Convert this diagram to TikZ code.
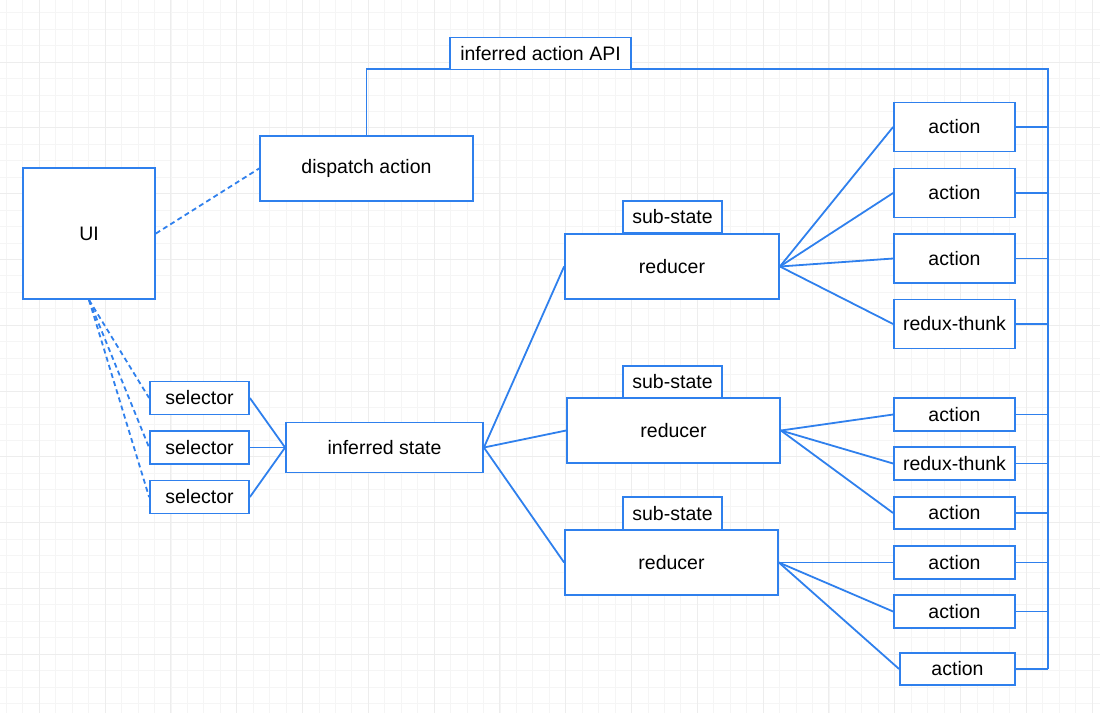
\documentclass[tikz,border=0pt]{standalone}
\usepackage{fontspec}
\setmainfont{Liberation Sans}
\definecolor{drawblue}{HTML}{2F80ED}
\definecolor{gridminor}{HTML}{F5F5F5}
\definecolor{gridmajor}{HTML}{EDEDED}
\tikzset{
	box/.style={draw=drawblue, line width=1.8pt, fill=white, inner sep=0pt,
		font=\fontsize{19.5}{23}\selectfont},
	link/.style={draw=drawblue, line width=1.8pt},
	uilink/.style={link, dash pattern=on 5pt off 3.5pt},
}
\begin{document}
\begin{tikzpicture}[x=1pt, y=-1pt]
		\useasboundingbox (0,0) rectangle (1100,713);
		% background grid
		\foreach \i in {0,...,66}
			\draw[gridminor, line width=0.8pt] (6.4+16.45*\i,0) -- ++(0,713);
		\foreach \j in {0,...,42}
			\draw[gridminor, line width=0.8pt] (0,12.65+16.45*\j) -- ++(1100,0);
		\foreach \i in {0,...,16}
			\draw[gridmajor, line width=1pt] (39.3+65.8*\i,0) -- ++(0,713);
		\foreach \j in {0,...,9}
			\draw[gridmajor, line width=1pt] (0,62+65.8*\j) -- ++(1100,0);

		% left side
		\node[box, minimum width=132pt, minimum height=131pt] (ui) at (89,233.5) {UI};
		\node[box, minimum width=213pt, minimum height=65pt] (dispatch) at (366.5,168.5) {dispatch action};
		\node[box, minimum width=99pt, minimum height=33pt] (sel1) at (199.5,398) {selector};
		\node[box, minimum width=99pt, minimum height=33pt] (sel2) at (199.5,447.5) {selector};
		\node[box, minimum width=99pt, minimum height=33pt] (sel3) at (199.5,497) {selector};
		\node[box, minimum width=197pt, minimum height=50pt] (state) at (384.5,447.5) {inferred state};

		% reducers with their sub-states
		\node[box, minimum width=214pt, minimum height=65pt] (red1) at (672,266.5) {reducer};
		\node[box, minimum width=99pt, minimum height=32pt] (sub1) at (672.5,217) {sub-state};
		\node[box, minimum width=213pt, minimum height=65pt] (red2) at (673.5,430.5) {reducer};
		\node[box, minimum width=99pt, minimum height=32pt] (sub2) at (672.5,382) {sub-state};
		\node[box, minimum width=213pt, minimum height=65pt] (red3) at (671.5,562.5) {reducer};
		\node[box, minimum width=99pt, minimum height=33pt] (sub3) at (672.5,513.5) {sub-state};

		% actions
		\node[box, minimum width=121pt, minimum height=49pt] (act1) at (954.5,127) {action};
		\node[box, minimum width=121pt, minimum height=49pt] (act2) at (954.5,193) {action};
		\node[box, minimum width=121pt, minimum height=49pt] (act3) at (954.5,258.5) {action};
		\node[box, minimum width=121pt, minimum height=49pt] (thunk1) at (954.5,324) {redux-thunk};
		\node[box, minimum width=121pt, minimum height=33pt] (act4) at (954.5,414.5) {action};
		\node[box, minimum width=121pt, minimum height=33pt] (thunk2) at (954.5,463.5) {redux-thunk};
		\node[box, minimum width=121pt, minimum height=32pt] (act5) at (954.5,513) {action};
		\node[box, minimum width=121pt, minimum height=33pt] (act6) at (954.5,562.5) {action};
		\node[box, minimum width=121pt, minimum height=33pt] (act7) at (954.5,611.5) {action};
		\node[box, minimum width=115pt, minimum height=32pt] (act8) at (957.5,669) {action};

		% connectors
		\draw[uilink] (ui.east) -- (dispatch.west);
		\foreach \s in {sel1,sel2,sel3} {
			\draw[uilink] (ui.south) -- (\s.west);
			\draw[link] (\s.east) -- (state.west);
		}
		\foreach \r in {red1,red2,red3}
			\draw[link] (state.east) -- (\r.west);
		\foreach \a in {act1,act2,act3,thunk1}
			\draw[link] (red1.east) -- (\a.west);
		\foreach \a in {act4,thunk2,act5}
			\draw[link] (red2.east) -- (\a.west);
		\foreach \a in {act6,act7,act8}
			\draw[link] (red3.east) -- (\a.west);

		% action API bus
		\coordinate (bustop) at (1048,69);
		\coordinate (busend) at (1048,669);
		\draw[link] (dispatch.north) |- (bustop) -- (busend);
		\foreach \a in {act1,act2,act3,thunk1,act4,thunk2,act5,act6,act7,act8}
			\draw[link] (\a.east) -- (\a.east -| bustop);
		\node[box, minimum width=181pt, minimum height=32pt] (api) at (540.5,53.5) {inferred action API};
	\end{tikzpicture}
\end{document}
